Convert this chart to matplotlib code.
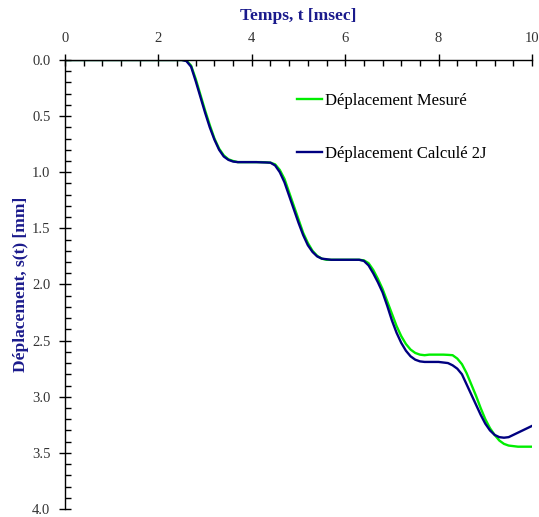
import matplotlib
matplotlib.use("Agg")
import matplotlib.pyplot as plt
from matplotlib.ticker import MultipleLocator

plt.rcParams['font.family'] = ['Liberation Serif', 'DejaVu Serif']

t = [0.0, 2.4, 2.5, 2.6, 2.7, 2.8, 2.9, 3.0, 3.1, 3.2, 3.3, 3.4, 3.5, 3.6, 3.7, 3.8, 3.9,
     4.0, 4.1, 4.2, 4.3, 4.4, 4.5, 4.6, 4.7, 4.8, 4.9, 5.0, 5.1, 5.2, 5.3, 5.4, 5.5, 5.6,
     5.7, 5.8, 5.9, 6.0, 6.1, 6.2, 6.3, 6.4, 6.5, 6.6, 6.7, 6.8, 6.9, 7.0, 7.1, 7.2, 7.3,
     7.4, 7.5, 7.6, 7.7, 7.8, 7.9, 8.0, 8.1, 8.2, 8.3, 8.4, 8.5, 8.6, 8.7, 8.8, 8.9, 9.0,
     9.1, 9.2, 9.3, 9.4, 9.5, 9.6, 9.7, 9.8, 9.9, 10.0]

measured = [0.0, 0.0, 0.0, 0.005, 0.05, 0.17, 0.31, 0.45, 0.58, 0.70, 0.79, 0.85, 0.885, 0.90, 0.91, 0.91, 0.91,
            0.91, 0.91, 0.91, 0.912, 0.915, 0.93, 0.98, 1.06, 1.18, 1.30, 1.42, 1.54, 1.63, 1.70, 1.745, 1.77, 1.78,
            1.78, 1.78, 1.78, 1.78, 1.78, 1.78, 1.78, 1.785, 1.81, 1.87, 1.95, 2.04, 2.15, 2.26, 2.37, 2.46, 2.53,
            2.58, 2.61, 2.625, 2.63, 2.625, 2.625, 2.625, 2.625, 2.627, 2.63, 2.66, 2.71, 2.79, 2.89, 2.99, 3.10, 3.20,
            3.28, 3.34, 3.39, 3.42, 3.435, 3.44, 3.445, 3.445, 3.445, 3.445]

calculated = [0.0, 0.0, 0.0, 0.01, 0.06, 0.19, 0.33, 0.47, 0.60, 0.71, 0.80, 0.86, 0.89, 0.905, 0.91, 0.91, 0.91,
              0.91, 0.91, 0.912, 0.913, 0.915, 0.94, 1.00, 1.09, 1.21, 1.33, 1.45, 1.56, 1.65, 1.71, 1.75, 1.77, 1.775,
              1.78, 1.78, 1.78, 1.78, 1.78, 1.78, 1.78, 1.79, 1.83, 1.90, 1.98, 2.07, 2.19, 2.32, 2.43, 2.52, 2.59,
              2.64, 2.67, 2.685, 2.69, 2.69, 2.69, 2.69, 2.695, 2.70, 2.72, 2.75, 2.80, 2.89, 2.98, 3.07, 3.16, 3.24,
              3.30, 3.34, 3.36, 3.365, 3.36, 3.34, 3.32, 3.30, 3.28, 3.26]

label_measured = "Déplacement Mesuré"
label_calculated = "Déplacement Calculé 2J"

fig = plt.figure(figsize=(5.39, 5.17), dpi=100)
ax = fig.add_axes([0.1206, 0.0155, 0.8664, 0.8685])

ax.plot(t, measured, color='#00ee00', lw=1.7, label=label_measured)
ax.plot(t, calculated, color='#000080', lw=1.7, label=label_calculated)

ax.set_xlim(0, 10)
ax.set_ylim(4.0, 0.0)
ax.xaxis.set_major_locator(MultipleLocator(2))
ax.xaxis.set_minor_locator(MultipleLocator(0.4))
ax.yaxis.set_major_locator(MultipleLocator(0.5))
ax.yaxis.set_minor_locator(MultipleLocator(0.1))
ax.yaxis.set_major_formatter(matplotlib.ticker.FormatStrFormatter('%.1f'))

ax.xaxis.tick_top()
ax.xaxis.set_label_position('top')
for s in ['right', 'bottom']:
    ax.spines[s].set_visible(False)
for s in ['top', 'left']:
    ax.spines[s].set_linewidth(1.0)
    ax.spines[s].set_color('black')

ax.tick_params(axis='both', which='major', direction='inout', length=9, width=1.0,
               labelsize=10.5, labelcolor='#333333', pad=6)
ax.tick_params(axis='both', which='minor', direction='in', length=4, width=1.0)

ax.set_xlabel('Temps, t [msec]', fontsize=12.5, fontweight='bold', color='#1a1a8c', labelpad=9)
ax.set_ylabel('Déplacement, s(t) [mm]', fontsize=12.5, fontweight='bold', color='#1a1a8c', labelpad=2)

leg = ax.legend(loc='upper left', bbox_to_anchor=(0.465, 0.96), frameon=False,
                fontsize=12, handlelength=1.5, handletextpad=0.2, labelspacing=2.2)

fig.savefig('out.png', dpi=100)
